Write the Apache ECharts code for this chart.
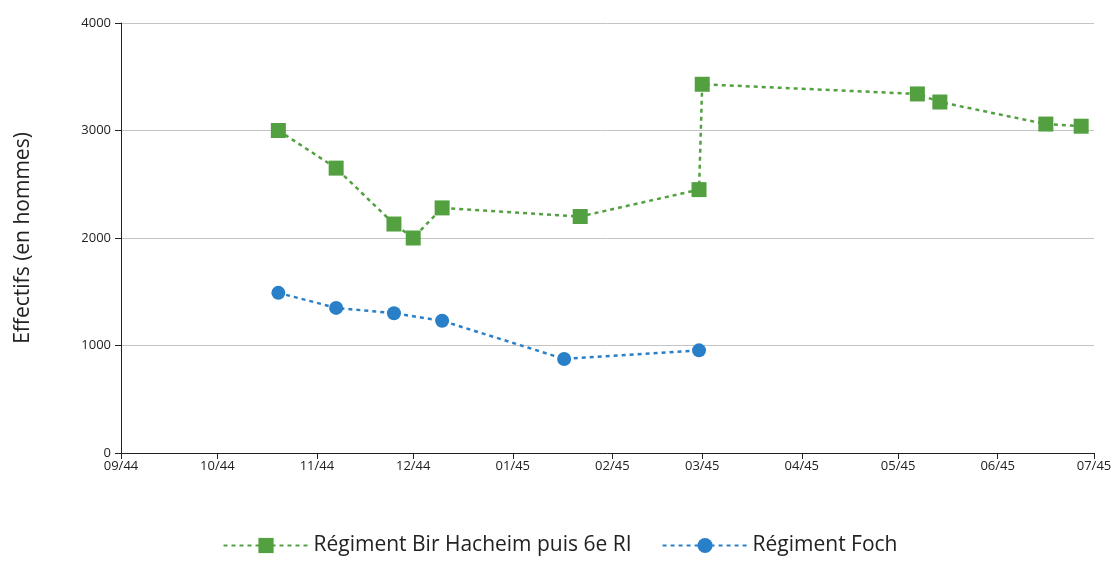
<!DOCTYPE html>
<html>
<head>
<meta charset="utf-8">
<script src="https://cdn.jsdelivr.net/npm/echarts@6/dist/echarts.min.js"></script>
<style>
  html, body { margin: 0; padding: 0; background: #fff; }
  #main { width: 1120px; height: 561px; }
</style>
</head>
<body>
<div id="main"></div>
<script>
// dates of each report
var bhDates = ['1944-10-20', '1944-11-07', '1944-11-25', '1944-12-01', '1944-12-10', '1945-01-22',
               '1945-02-28', '1945-03-01', '1945-05-07', '1945-05-14', '1945-06-16', '1945-06-27'];
var bhValues = [3000, 2650, 2130, 2000, 2280, 2200, 2450, 3430, 3340, 3265, 3060, 3040];

var fochDates = ['1944-10-20', '1944-11-07', '1944-11-25', '1944-12-10', '1945-01-17', '1945-02-28'];
var fochValues = [1490, 1350, 1300, 1230, 875, 955];

var xMin = '1944-09-01';
var xMax = '1945-07-01';

function pairs(dates, vals) {
    var out = [];
    for (var i = 0; i < dates.length; i++) out.push([dates[i], vals[i]]);
    return out;
}

var myChart = echarts.init(document.getElementById('main'));
var font = '"Open Sans", "Noto Sans", sans-serif';
var option = {
    backgroundColor: '#fff',
    textStyle: { fontFamily: font },
    grid: { left: 121, right: 26, top: 23, bottom: 108, containLabel: false },
    legend: {
        bottom: 0,
        left: 'center',
        itemWidth: 85,
        itemHeight: 19,
        itemGap: 30,
        textStyle: { fontSize: 21, color: '#222', fontFamily: font },
        data: ['Régiment Bir Hacheim puis 6e RI', 'Régiment Foch']
    },
    xAxis: {
        type: 'time',
        min: xMin,
        max: xMax,
        splitNumber: 10,
        axisLine: { lineStyle: { color: '#222', width: 1 } },
        axisTick: { show: true, length: 6, lineStyle: { color: '#222' } },
        axisLabel: { formatter: '{MM}/{yy}', color: '#222', fontSize: 13, margin: 7, showMinLabel: true, showMaxLabel: true },
        splitLine: { show: false }
    },
    yAxis: {
        type: 'value',
        min: 0,
        max: 4000,
        interval: 1000,
        name: 'Effectifs (en hommes)',
        nameLocation: 'middle',
        nameGap: 87,
        nameTextStyle: { fontSize: 21, color: '#222' },
        axisLine: { show: true, lineStyle: { color: '#222' } },
        axisTick: { show: true, length: 6, lineStyle: { color: '#222' } },
        axisLabel: { color: '#222', fontSize: 13, margin: 10, formatter: function (v) { return String(v); } },
        splitLine: { lineStyle: { color: '#c4c4c4', width: 1 } }
    },
    series: [
        {
            name: 'Régiment Bir Hacheim puis 6e RI',
            type: 'line',
            data: pairs(bhDates, bhValues),
            symbol: 'rect',
            symbolSize: 15,
            itemStyle: { color: '#52a040' },
            lineStyle: { color: '#52a040', width: 2.5, type: [4, 4] }
        },
        {
            name: 'Régiment Foch',
            type: 'line',
            data: pairs(fochDates, fochValues),
            symbol: 'circle',
            symbolSize: 14,
            itemStyle: { color: '#2a80c8' },
            lineStyle: { color: '#2a80c8', width: 2.5, type: [4, 4] }
        }
    ]
};
myChart.setOption(option);
</script>
</body>
</html>
